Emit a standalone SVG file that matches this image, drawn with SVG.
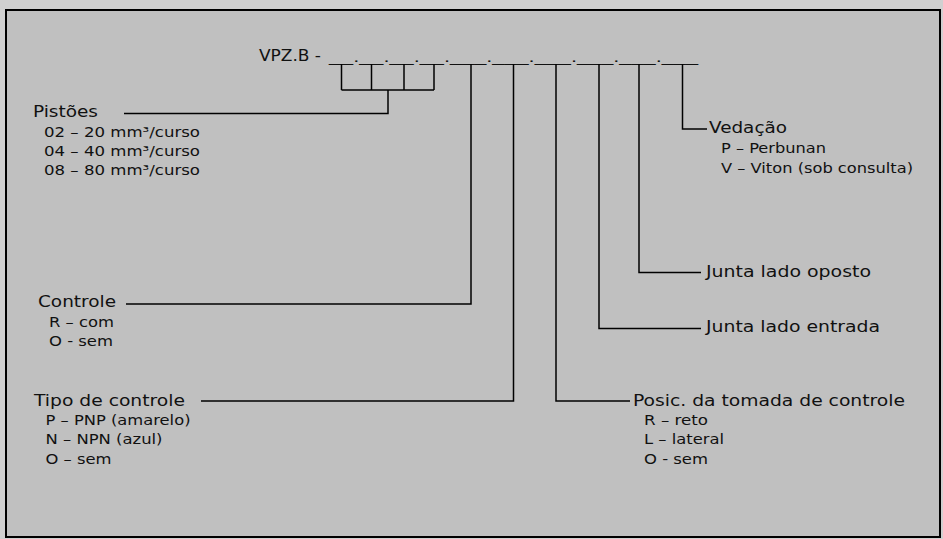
<svg xmlns="http://www.w3.org/2000/svg" width="943" height="539" viewBox="0 0 943 539">
<style>
  .main { font-family: "DejaVu Sans", Verdana, sans-serif; font-size: 16px; fill: #111; }
  .sub { font-family: "DejaVu Sans", Verdana, sans-serif; font-size: 14px; fill: #111; }
  .code { font-family: "Liberation Sans", Arial, sans-serif; font-size: 14px; fill: #111; }
  .conn { fill: none; stroke: #000; stroke-width: 1.5; }
</style>
<rect x="0" y="0" width="943" height="539" fill="#d0d0d0"/>
<rect x="6" y="10" width="934" height="527" fill="#c0c0c0" stroke="#000" stroke-width="2"/>

<g id="code">
  <text class="main" x="259" y="61" textLength="62" lengthAdjust="spacingAndGlyphs">VPZ.B -</text>
  <text class="code" x="329" y="61.5" textLength="369" lengthAdjust="spacingAndGlyphs">__.__.__.__.___.___.___.___.___.___</text>
</g>

<g id="connectors">
  <path class="conn" d="M341.5,64 V90 M371.5,64 V90 M404,64 V90 M434,64 V90 M341.5,90 H434 M388,90 V113.5 H124"/>
  <path class="conn" d="M471,64 V304 H126"/>
  <path class="conn" d="M513.5,64 V401 H201"/>
  <path class="conn" d="M556,64 V401 H630"/>
  <path class="conn" d="M599,64 V328.5 H701"/>
  <path class="conn" d="M639,64 V272.5 H701"/>
  <path class="conn" d="M682.5,64 V129 H707"/>
</g>

<g id="pistoes">
  <text class="main" x="33" y="116.5" textLength="65" lengthAdjust="spacingAndGlyphs">Pistões</text>
  <text class="sub" x="44" y="136.5" textLength="156" lengthAdjust="spacingAndGlyphs">02 – 20 mm³/curso</text>
  <text class="sub" x="44" y="155.5" textLength="156" lengthAdjust="spacingAndGlyphs">04 – 40 mm³/curso</text>
  <text class="sub" x="44" y="175" textLength="156" lengthAdjust="spacingAndGlyphs">08 – 80 mm³/curso</text>
</g>

<g id="controle">
  <text class="main" x="38" y="306.5" textLength="78" lengthAdjust="spacingAndGlyphs">Controle</text>
  <text class="sub" x="49" y="326.5" textLength="65" lengthAdjust="spacingAndGlyphs">R – com</text>
  <text class="sub" x="49" y="346" textLength="64" lengthAdjust="spacingAndGlyphs">O - sem</text>
</g>

<g id="tipo-controle">
  <text class="main" x="34" y="405.5" textLength="151" lengthAdjust="spacingAndGlyphs">Tipo de controle</text>
  <text class="sub" x="45.5" y="425" textLength="145" lengthAdjust="spacingAndGlyphs">P – PNP (amarelo)</text>
  <text class="sub" x="45.5" y="444" textLength="117" lengthAdjust="spacingAndGlyphs">N – NPN (azul)</text>
  <text class="sub" x="45.5" y="463.5" textLength="66" lengthAdjust="spacingAndGlyphs">O – sem</text>
</g>

<g id="posic">
  <text class="main" x="633" y="405.5" textLength="272" lengthAdjust="spacingAndGlyphs">Posic. da tomada de controle</text>
  <text class="sub" x="644" y="425" textLength="64" lengthAdjust="spacingAndGlyphs">R – reto</text>
  <text class="sub" x="644" y="444" textLength="80" lengthAdjust="spacingAndGlyphs">L – lateral</text>
  <text class="sub" x="644" y="463.5" textLength="64" lengthAdjust="spacingAndGlyphs">O - sem</text>
</g>

<g id="junta-entrada">
  <text class="main" x="706" y="331.5" textLength="174" lengthAdjust="spacingAndGlyphs">Junta lado entrada</text>
</g>

<g id="junta-oposto">
  <text class="main" x="706" y="276.5" textLength="165" lengthAdjust="spacingAndGlyphs">Junta lado oposto</text>
</g>

<g id="vedacao">
  <text class="main" x="709" y="133" textLength="78" lengthAdjust="spacingAndGlyphs">Vedação</text>
  <text class="sub" x="721" y="153" textLength="105" lengthAdjust="spacingAndGlyphs">P – Perbunan</text>
  <text class="sub" x="721" y="173" textLength="192" lengthAdjust="spacingAndGlyphs">V – Viton (sob consulta)</text>
</g>
</svg>
